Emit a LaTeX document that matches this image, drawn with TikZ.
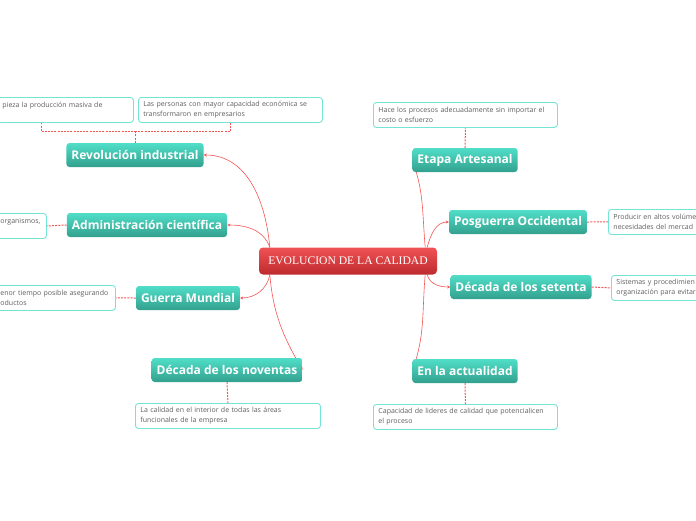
\documentclass[tikz,border=0pt]{standalone}
\usepackage{fontspec}
\setmainfont{Open Sans}
\newfontfamily\headfont{Liberation Serif}
\usetikzlibrary{arrows.meta,backgrounds}

\definecolor{tealtop}{RGB}{80,222,200}
\definecolor{tealbot}{RGB}{50,160,142}
\definecolor{redtop}{RGB}{240,82,84}
\definecolor{redbot}{RGB}{190,42,46}
\definecolor{leafline}{RGB}{118,228,212}
\definecolor{leaftext}{RGB}{95,95,95}
\definecolor{linkred}{RGB}{244,84,84}

\begin{document}
\begin{tikzpicture}[x=1pt,y=1pt,
  rootbox/.style={rounded corners=4pt, top color=redtop, bottom color=redbot, text=white, minimum width=178pt, minimum height=27pt, font=\headfont\fontsize{11.6}{13}\selectfont},
  topicbox/.style={rounded corners=3pt, top color=tealtop, bottom color=tealbot, text=white, inner xsep=5pt, inner ysep=0pt, minimum height=24pt, font=\bfseries\fontsize{12}{14}\selectfont},
  notebox/.style={draw=leafline, line width=0.9pt, fill=white, rounded corners=3pt, text=leaftext, align=left, inner xsep=5pt, inner ysep=2pt, minimum height=25pt, anchor=north west, font=\fontsize{7}{10}\selectfont},
  branch/.style={color=linkred, line width=0.6pt, -{Stealth[length=3pt,width=3pt]}},
  notelink/.style={color=linkred, line width=1pt, line cap=butt, dash pattern=on 2pt off 1.2pt}]
\useasboundingbox (0,-520) rectangle (696,0);

\node[rootbox] (root) at (348,-261) {EVOLUCION DE LA CALIDAD};

\node[topicbox] (revol) at (135,-155) {Revolución industrial};
\node[topicbox] (admin) at (147,-225) {Administración científica};
\node[topicbox] (guerra) at (188,-298) {Guerra Mundial};
\node[topicbox] (noventa) at (227,-370) {Década de los noventas};
\node[topicbox] (artesanal) at (465,-160) {Etapa Artesanal};
\node[topicbox] (posguerra) at (518,-222) {Posguerra Occidental};
\node[topicbox] (setenta) at (521,-287) {Década de los setenta};
\node[topicbox] (actual) at (465,-371) {En la actualidad};

% notes
\node[notebox, text width=126pt] (revolA) at (-3,-97) {pieza la producción masiva de\\\mbox{}};
\node[notebox, text width=174pt] (revolB) at (138,-97) {Las personas con mayor capacidad económica se\\transformaron en empresarios};
\node[notebox, text width=41pt] (adminA) at (-5,-213) {organismos,\\\mbox{}};
\node[notebox, text width=110pt] (guerraA) at (-5,-285) {enor tiempo posible asegurando\\oductos};
\node[notebox, text width=175pt] (noventaA) at (135,-403) {La calidad en el interior de todas las áreas\\funcionales de la empresa};
\node[notebox, text width=174pt] (artesanalA) at (373,-102) {Hace los procesos adecuadamente sin importar el\\costo o esfuerzo};
\node[notebox, text width=120pt] (posguerraA) at (608,-209) {Producir en altos volúme\\necesidades del mercad};
\node[notebox, text width=120pt] (setentaA) at (611,-275) {Sistemas y procedimien\\organización para evitar};
\node[notebox, text width=174pt] (actualA) at (373,-404) {Capacidad de lideres de calidad que potencialicen\\el proceso};

\begin{scope}[on background layer]
\draw[branch] ([xshift=11pt]root.north west) to[out=95,in=0] (revol.east);
\draw[branch] ([xshift=11pt]root.north west) to[out=110,in=0] (admin.east);
\draw[branch] ([xshift=11pt]root.south west) to[out=-100,in=0] (guerra.east);
\draw[branch] ([xshift=11pt]root.south west) to[out=-85,in=120] (noventa.east);
\draw[branch] ([xshift=-12pt]root.north east) to[out=95,in=-70] (artesanal.west);
\draw[branch] ([xshift=-10pt]root.north east) to[out=75,in=180] (posguerra.west);
\draw[branch] ([xshift=-10pt]root.south east) to[out=-75,in=180] (setenta.west);
\draw[branch] ([xshift=-12pt]root.south east) to[out=-95,in=70] (actual.west);

\draw[notelink] (revol.north) -- ([yshift=11pt]revol.north) coordinate (revolhub) -| ([xshift=-24pt]revolA.south);
\draw[notelink] (revolhub) -| (revolB.south);
\draw[notelink] (admin.west) -- (adminA.east);
\draw[notelink] (guerra.west) -- (guerraA.east);
\draw[notelink] (noventa.south) -- (noventaA.north);
\draw[notelink] (artesanal.north) -- (artesanalA.south);
\draw[notelink] (posguerra.east) -- (posguerraA.west);
\draw[notelink] (setenta.east) -- (setentaA.west);
\draw[notelink] (actual.south) -- (actualA.north);
\end{scope}
\end{tikzpicture}
\end{document}
